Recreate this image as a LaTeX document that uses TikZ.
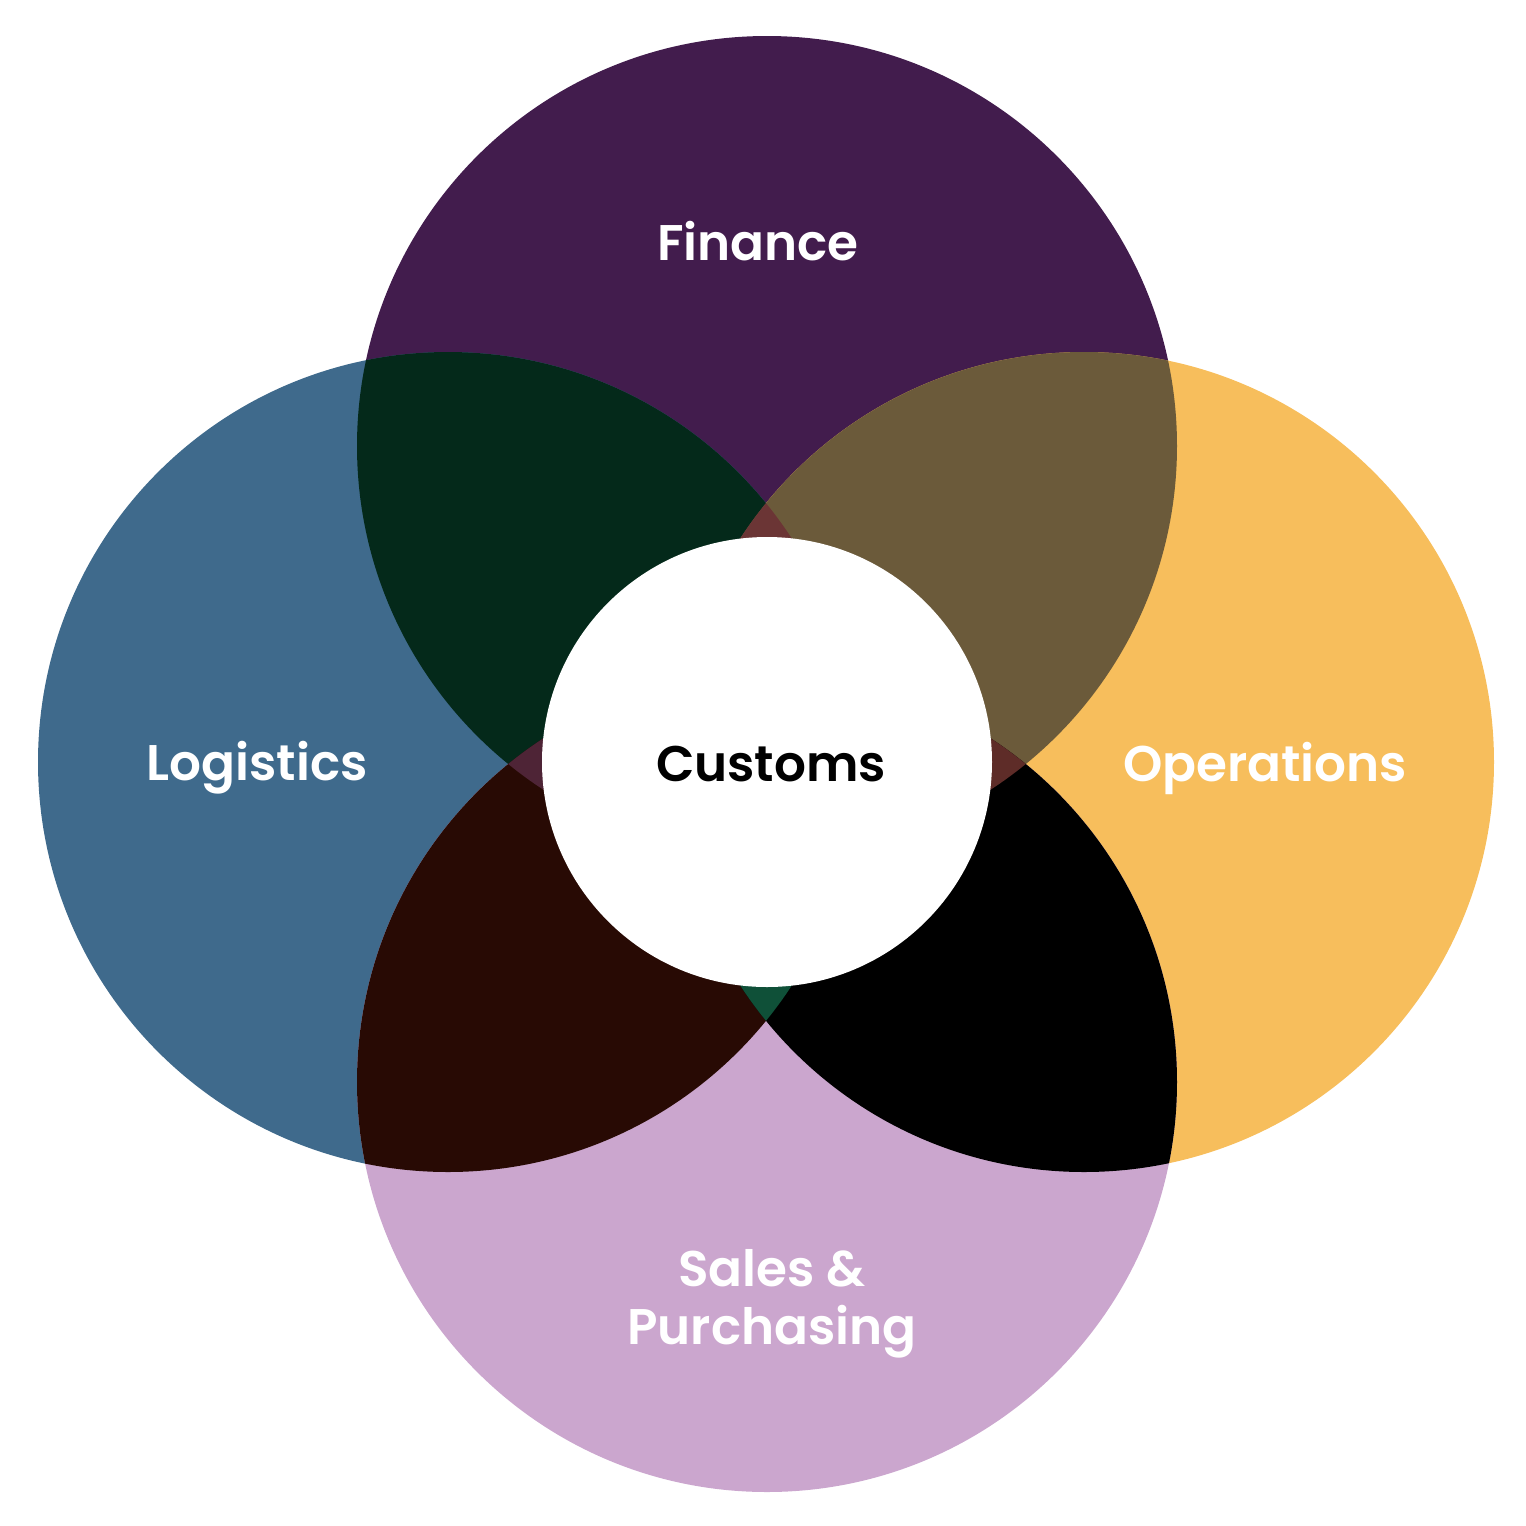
\documentclass[tikz,border=0pt]{standalone}
\usepackage{fontspec}
\setmainfont{Poppins}[BoldFont={* SemiBold}]
\definecolor{cfin}{HTML}{421C4D}
\definecolor{clog}{HTML}{3F6A8C}
\definecolor{cops}{HTML}{F7BE5C}
\definecolor{csal}{HTML}{CBA6CE}
\definecolor{ctl}{HTML}{04291A}
\definecolor{ctr}{HTML}{6B5A3A}
\definecolor{cbl}{HTML}{280A04}
\definecolor{cbr}{HTML}{000000}
\definecolor{ttop}{HTML}{6B3535}
\definecolor{tleft}{HTML}{4E2436}
\definecolor{tright}{HTML}{5E2C28}
\definecolor{tbot}{HTML}{0F5038}
\begin{document}
\begin{tikzpicture}[x=0.02cm,y=-0.02cm,
  lbl/.style={font=\bfseries\fontsize{28.5}{33}\selectfont, text=white, align=center, inner sep=0pt}]
\useasboundingbox (0,0) rectangle (1526,1526);
\def\R{410}
\coordinate (T) at (767,446);
\coordinate (B) at (767,1082);
\coordinate (L) at (448,762);
\coordinate (Rt) at (1084,762);
\coordinate (C) at (767,762);
% base circles
\fill[cfin] (T) circle (\R);
\fill[clog] (L) circle (\R);
\fill[cops] (Rt) circle (\R);
\fill[csal] (B) circle (\R);
% pairwise overlaps
\begin{scope}\clip (T) circle (\R); \fill[ctl] (L) circle (\R); \fill[ctr] (Rt) circle (\R);\end{scope}
\begin{scope}\clip (B) circle (\R); \fill[cbl] (L) circle (\R); \fill[cbr] (Rt) circle (\R);\end{scope}
% triple overlaps
\begin{scope}\clip (T) circle (\R); \clip (B) circle (\R);
  \fill[tleft] (L) circle (\R); \fill[tright] (Rt) circle (\R);\end{scope}
\begin{scope}\clip (L) circle (\R); \clip (Rt) circle (\R);
  \fill[ttop] (T) circle (\R); \fill[tbot] (B) circle (\R);\end{scope}
% centre
\fill[white] (C) circle (225);
\node[lbl] (fin) at (758,241) {Finance};
\node[lbl] (log) at (257,768) {Logistics};
\node[lbl] (ops) at (1265,768) {Operations};
\node[lbl, text=black] (cus) at (771,764) {Customs};
\node[lbl] (sal) at (772,1304) {Sales \&\\Purchasing};
\end{tikzpicture}
\end{document}
